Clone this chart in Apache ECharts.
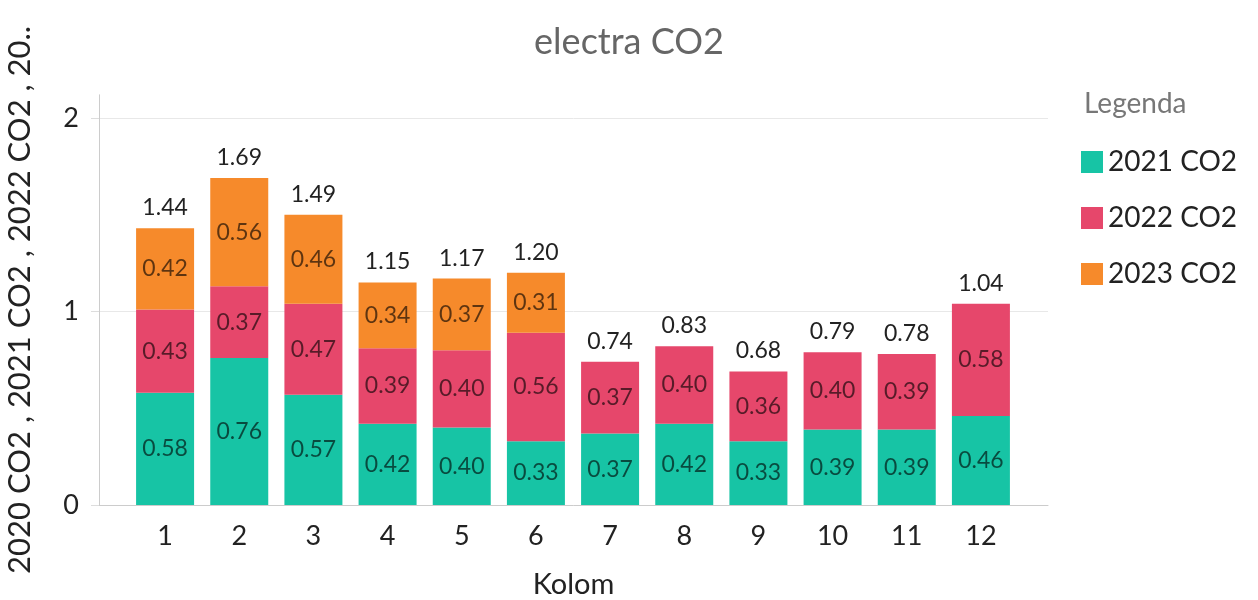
<!DOCTYPE html>
<html>
<head>
<meta charset="utf-8">
<script src="https://cdn.jsdelivr.net/npm/echarts@6/dist/echarts.min.js"></script>
<style>html,body{margin:0;padding:0;background:#fff;}#c{width:1258px;height:600px;}</style>
</head>
<body>
<div id="c"></div>
<script>
const categories = ['1', '2', '3', '4', '5', '6', '7', '8', '9', '10', '11', '12'];
const co2_2021 = [0.58, 0.76, 0.57, 0.42, 0.40, 0.33, 0.37, 0.42, 0.33, 0.39, 0.39, 0.46];
const co2_2022 = [0.43, 0.37, 0.47, 0.39, 0.40, 0.56, 0.37, 0.40, 0.36, 0.40, 0.39, 0.58];
const co2_2023 = [0.42, 0.56, 0.46, 0.34, 0.37, 0.31, null, null, null, null, null, null];
const totals = [1.44, 1.69, 1.49, 1.15, 1.17, 1.20, 0.74, 0.83, 0.68, 0.79, 0.78, 1.04];
const yTicks = [0, 1, 2];
const seriesNames = ['2021 CO2', '2022 CO2', '2023 CO2'];
const yAxisTitle = '2020 CO2 , 2021 CO2 , 2022 CO2 , 20..';
const colors = ['#17c4a5', '#e6476b', '#f68a2b'];

const FONT = 'Lato';
const Y_MAX = 2.12;
const chart = echarts.init(document.getElementById('c'));

const inLabel = {
  show: true, position: 'inside', fontFamily: FONT, fontSize: 23,
  color: 'rgba(0,0,0,0.62)',
  formatter: p => (p.value == null || p.value === '-' ? '' : Number(p.value).toFixed(2))
};

const series = [co2_2021, co2_2022, co2_2023].map((arr, k) => ({
  name: seriesNames[k], type: 'bar', stack: 'total', barWidth: 58,
  xAxisIndex: 1, yAxisIndex: 1,
  itemStyle: { color: colors[k] },
  label: inLabel,
  data: arr.map(v => (v == null ? '-' : v))
}));
series.push({
  name: 'Total', type: 'bar', stack: 'total', barWidth: 58,
  xAxisIndex: 1, yAxisIndex: 1,
  itemStyle: { color: 'transparent' },
  label: {
    show: true, position: 'top', distance: 9, fontFamily: FONT, fontSize: 23, color: '#222',
    formatter: p => totals[p.dataIndex].toFixed(2)
  },
  data: categories.map(() => 0),
  silent: true
});

chart.setOption({
  animation: false,
  textStyle: { fontFamily: FONT },
  title: [
    { text: 'electra CO2', left: 'center', top: 19, textStyle: { fontFamily: FONT, fontSize: 36, fontWeight: 'normal', color: '#666' } },
    { text: 'Legenda', left: 1079, top: 85, textStyle: { fontFamily: FONT, fontSize: 28, fontWeight: 'normal', color: '#777' } }
  ],
  legend: {
    data: seriesNames, orient: 'vertical', left: 1076, top: 143,
    icon: 'rect', itemWidth: 22, itemHeight: 22, itemGap: 28,
    textStyle: { fontFamily: FONT, fontSize: 28, color: '#222' }
  },
  grid: [
    { left: 99, right: 210, top: 94.8, bottom: 95, containLabel: false, outerBoundsMode: 'none' },
    { left: 128, right: 240, top: 94.8, bottom: 95, containLabel: false, outerBoundsMode: 'none' }
  ],
  xAxis: [
    {
      gridIndex: 0, type: 'value', min: 0, max: 1,
      name: 'Kolom', nameLocation: 'middle', nameGap: 80,
      nameTextStyle: { fontFamily: FONT, fontSize: 29, color: '#222', verticalAlign: 'middle' },
      axisLine: { show: true, lineStyle: { color: '#ccc' } },
      axisTick: { show: false }, splitLine: { show: false }, axisLabel: { show: false }
    },
    {
      gridIndex: 1, type: 'category', data: categories,
      axisLine: { show: false }, axisTick: { show: false }, splitLine: { show: false },
      axisLabel: { fontFamily: FONT, fontSize: 27, color: '#222', margin: 18 }
    }
  ],
  yAxis: [
    {
      gridIndex: 0, type: 'value', min: 0, max: Y_MAX,
      name: yAxisTitle, nameLocation: 'middle', nameGap: 64,
      nameTextStyle: { fontFamily: FONT, fontSize: 31, color: '#222' },
      axisLine: { show: true, lineStyle: { color: '#ccc' } },
      axisTick: { show: true, length: 8, lineStyle: { color: '#ddd' }, customValues: yTicks },
      splitLine: { show: true, lineStyle: { color: '#e8e8e8' } },
      axisLabel: { customValues: yTicks, fontFamily: FONT, fontSize: 27, color: '#222', margin: 20, verticalAlign: 'middle' }
    },
    {
      gridIndex: 1, type: 'value', min: 0, max: Y_MAX, show: false,
      splitLine: { show: false }
    }
  ],
  series: series
});
</script>
</body>
</html>
